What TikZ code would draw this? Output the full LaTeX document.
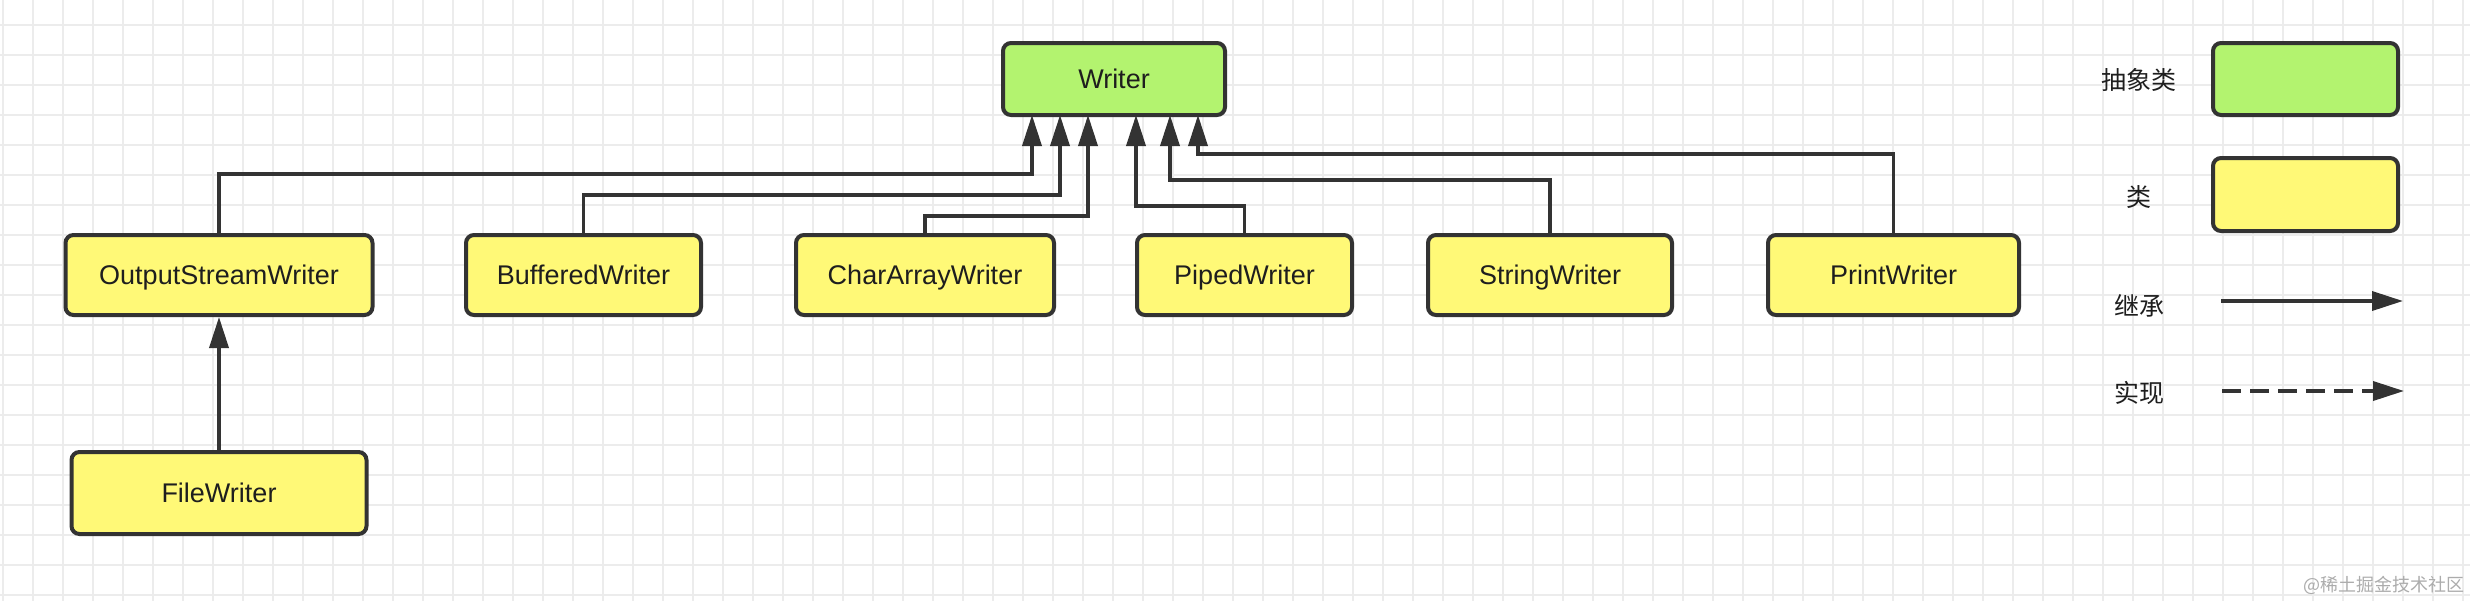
\documentclass[tikz,border=0pt]{standalone}
\usepackage{fontspec}
\setmainfont{Liberation Sans}
\newfontfamily\cjk{Noto Sans CJK SC}
\usetikzlibrary{arrows.meta}
\definecolor{absgreen}{HTML}{B3F36F}
\definecolor{clsyellow}{HTML}{FFF977}
\definecolor{edge}{HTML}{333333}
\definecolor{txt}{HTML}{1E1E1E}
\tikzset{
  classbox/.style={draw=edge, line width=2pt, rounded corners=4pt, inner sep=0pt,
    minimum height=40pt, text height=9.7pt, text depth=0pt, text=txt,
    font=\fontsize{13.5}{16}\selectfont},
  abstract/.style={classbox, fill=absgreen},
  klass/.style={classbox, fill=clsyellow},
  inherit/.style={draw=edge, line width=1.8pt, -{Triangle[length=15.5pt,width=9.5pt]}},
  gridline/.style={draw=gray!15, line width=1pt},
  legtext/.style={text=txt, font=\cjk\fontsize{12.5}{15}\selectfont}
}
\begin{document}
\begin{tikzpicture}[x=0.5pt, y=-0.5pt]
  \useasboundingbox[fill=white] (0,0) rectangle (2470,601);
  \foreach \gx in {3,33,...,2463} \draw[gridline] (\gx,0) -- (\gx,601);
  \foreach \gy in {25,55,...,595} \draw[gridline] (0,\gy) -- (2470,\gy);

  \node[abstract, minimum width=111pt, minimum height=36pt] (writer) at (1114,79) {Writer};
  \node[klass, minimum width=153.5pt] (osw) at (219,275) {OutputStreamWriter};
  \node[klass, minimum width=117.5pt] (buf) at (583.5,275) {BufferedWriter};
  \node[klass, minimum width=129pt] (car) at (925,275) {CharArrayWriter};
  \node[klass, minimum width=107.5pt] (pip) at (1244.5,275) {PipedWriter};
  \node[klass, minimum width=122pt] (str) at (1550,275) {StringWriter};
  \node[klass, minimum width=125.5pt] (prt) at (1893.5,275) {PrintWriter};
  \node[klass, minimum width=147.5pt, minimum height=41pt] (fw) at (219,493) {FileWriter};

  \coordinate (w1) at (1032,115);
  \coordinate (w2) at (1060,115);
  \coordinate (w3) at (1088,115);
  \coordinate (w4) at (1136,115);
  \coordinate (w5) at (1170,115);
  \coordinate (w6) at (1198,115);
  \draw[inherit] (osw.north) -- ++(0,-59) -| (w1);
  \draw[inherit] (buf.north) -- ++(0,-38) -| (w2);
  \draw[inherit] (car.north) -- ++(0,-17) -| (w3);
  \draw[inherit] (pip.north) -- ++(0,-27) -| (w4);
  \draw[inherit] (str.north) -- ++(0,-53) -| (w5);
  \draw[inherit] (prt.north) -- ++(0,-79) -| (w6);
  \draw[inherit] (fw) -- (osw);

  \node[legtext] (tabs) at (2139,80) {抽象类};
  \node[legtext] (tcls) at (2139,197) {类};
  \node[legtext] (tinh) at (2139,306) {继承};
  \node[legtext] (timp) at (2139,393) {实现};
  \node[abstract, minimum width=92.5pt, minimum height=36pt] (labs) at (2305.5,79) {};
  \node[klass, minimum width=92.5pt, minimum height=36.5pt] (lcls) at (2305.5,194.5) {};
  \coordinate (li1) at (2221,301);
  \coordinate (li2) at (2403,301);
  \coordinate (lr1) at (2222,391);
  \coordinate (lr2) at (2404,391);
  \draw[inherit] (li1) -- (li2);
  \draw[inherit, dash pattern=on 9.5pt off 4.5pt] (lr1) -- (lr2);

  \node[text=gray!65, font=\cjk\fontsize{9}{10}\selectfont] (mark) at (2384,585) {@稀土掘金技术社区};
\end{tikzpicture}
\end{document}
